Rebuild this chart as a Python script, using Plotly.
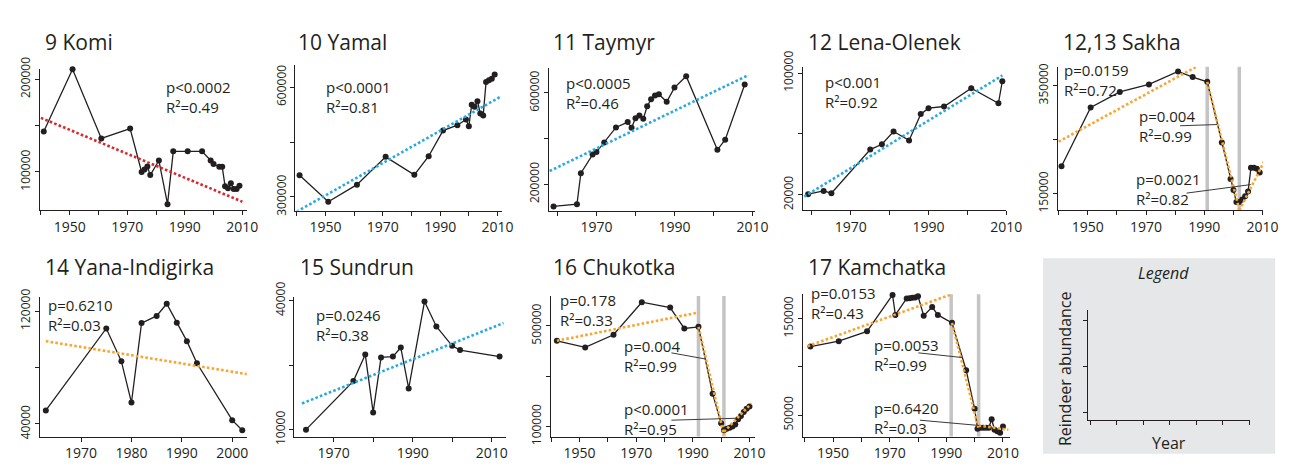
import plotly.graph_objects as go

W, H = 1298, 466
INK = "#231f20"
RED = "#d9272e"
BLUE = "#2aa9e0"
ORANGE = "#f8a532"
GREYLINE = "#c4c4c4"
FONT = "Open Sans"

# ---------------- data ----------------
komi_years = [1941, 1951, 1961, 1971, 1975, 1976, 1977, 1978, 1981, 1984, 1986, 1991, 1996,
              1999, 2000, 2002, 2003, 2004, 2005, 2006, 2007, 2008, 2009]
komi_vals = [143700, 210900, 136200, 146800, 100000, 102700, 105800, 96600, 112300, 65200,
             122200, 122200, 122200, 112300, 108500, 105500, 105500, 84600, 82300, 87800,
             81600, 81600, 85000]
komi_trend_years = [1940, 2010]
komi_trend_vals = [158400, 67900]

yamal_years = [1941, 1951, 1961, 1971, 1981, 1986, 1991, 1996, 1999, 2000, 2001, 2002, 2003,
               2004, 2005, 2006, 2007, 2008, 2009]
yamal_vals = [359700, 287000, 333700, 409800, 360500, 411500, 481600, 496300, 511800, 493700,
              552500, 546400, 562000, 528200, 523100, 614700, 619000, 623300, 634600]
yamal_trend_years = [1940, 2011]
yamal_trend_vals = [260000, 573900]

taymyr_years = [1959, 1965, 1966, 1969, 1970, 1972, 1975, 1978, 1979, 1980, 1981, 1982, 1983,
                1984, 1985, 1986, 1988, 1990, 1993, 2001, 2003, 2008]
taymyr_vals = [103100, 112800, 248400, 330100, 341200, 382700, 449100, 472700, 447800, 489300,
               501700, 486500, 541900, 572300, 588900, 594500, 561200, 623500, 673400, 350900,
               395200, 637400]
taymyr_trend_years = [1958, 2009]
taymyr_trend_vals = [258100, 678700]

lena_years = [1959, 1963, 1965, 1975, 1978, 1981, 1985, 1988, 1990, 1994, 2001, 2008, 2009]
lena_vals = [20400, 22500, 21000, 49700, 53200, 61600, 55700, 73000, 76900, 78000, 90000,
             80100, 94600]
lena_trend_years = [1958, 2009]
lena_trend_vals = [18800, 98400]

sakha_years = [1941, 1951, 1961, 1971, 1981, 1986, 1991, 1996, 1999, 2000, 2001, 2002, 2003,
               2004, 2005, 2006, 2007, 2008, 2009]
sakha_vals = [200900, 309600, 338300, 352300, 376300, 365800, 357000, 244700, 177500, 157000,
              134800, 134800, 139500, 145300, 154100, 198000, 198000, 196200, 189200]
sakha_trend1_years = [1940, 1987]
sakha_trend1_vals = [246500, 384200]
sakha_trend2_years = [1991, 2002]
sakha_trend2_vals = [357000, 120200]
sakha_trend3_years = [2002, 2010.8]
sakha_trend3_vals = [119000, 212600]
sakha_breaks = [1991, 2002]

yana_years = [1963, 1975, 1978, 1980, 1982, 1985, 1987, 1989, 1991, 1993, 2000, 2002]
yana_vals = [49600, 107700, 84400, 55200, 111500, 116600, 125200, 111700, 98700, 83000,
             42700, 35500]
yana_trend_years = [1963, 2003]
yana_trend_vals = [98700, 75300]

sundrun_years = [1963, 1975, 1978, 1980, 1982, 1985, 1987, 1989, 1993, 1996, 2000, 2002, 2012]
sundrun_vals = [10000, 21300, 27500, 14000, 26800, 27000, 29100, 19600, 39800, 34000, 29500,
                28500, 27000]
sundrun_trend_years = [1962, 2013]
sundrun_trend_vals = [16100, 34800]

chukotka_years = [1942, 1952, 1962, 1972, 1982, 1987, 1992, 1997, 2000, 2001, 2002, 2003, 2004,
                  2005, 2006, 2007, 2008, 2009, 2010]
chukotka_vals = [440900, 414500, 464800, 594300, 573000, 489900, 496200, 229600, 112600, 84900,
                 91200, 95000, 100000, 107500, 128900, 141500, 157900, 170400, 179200]
chukotka_trend1_years = [1942, 1992]
chukotka_trend1_vals = [440900, 553500]
chukotka_trend2_years = [1992, 2001]
chukotka_trend2_vals = [496200, 66000]
chukotka_trend3_years = [2001, 2010.7]
chukotka_trend3_vals = [78600, 191800]
chukotka_breaks = [1992, 2001]

kamchatka_years = [1942, 1952, 1962, 1971, 1972, 1976, 1977, 1978, 1979, 1980, 1982, 1985, 1987,
                   1992, 1997, 2000, 2001, 2002, 2003, 2004, 2005, 2006, 2007, 2008, 2009, 2010]
kamchatka_vals = [121100, 126700, 136900, 174600, 153900, 171000, 171300, 171600, 172000, 173300,
                  153000, 162100, 153900, 145700, 96600, 56600, 35900, 36900, 36900, 36900,
                  36900, 45700, 34900, 33300, 31600, 38200]
kamchatka_trend1_years = [1941, 1992]
kamchatka_trend1_vals = [121500, 175500]
kamchatka_trend2_years = [1992, 2001.4]
kamchatka_trend2_vals = [145700, 35900]
kamchatka_trend3_years = [2001.4, 2011.9]
kamchatka_trend3_vals = [39200, 34900]
kamchatka_breaks = [1991.7, 2001.4]

# ---------------- helpers ----------------
def fx(x):
    return x / W


def fy(y):
    return 1 - y / H


dec40 = list(range(1940, 2011, 10))
dec60 = list(range(1960, 2011, 10))
lab4 = [1950, 1970, 1990, 2010]
lab3 = [1970, 1990, 2010]

panels = [
    dict(title="9 Komi", tpos=(35, 18.5), years=komi_years, vals=komi_vals,
         trends=[(komi_trend_years, komi_trend_vals)], color=RED,
         box=(32.5, 242, 47, 196), xcal=(1940, 33.3, 2.914), ycal=(200000, 58.3, 0.0009767),
         xt=dec40, xl=lab4, yt=[100000, 150000, 200000], yl=[100000, 200000],
         stats=[("p<0.0002", "R²=0.49", 158, 67, 87)], breaks=[]),
    dict(title="10 Yamal", tpos=(292, 18.5), years=yamal_years, vals=yamal_vals,
         trends=[(yamal_trend_years, yamal_trend_vals)], color=BLUE,
         box=(291, 500, 43.3, 196.7), xcal=(1940, 292.3, 2.905), ycal=(600000, 66.7, 0.0003856),
         xt=dec40, xl=lab4, yt=[300000, 450000, 600000], yl=[300000, 600000],
         stats=[("p<0.0001", "R²=0.81", 320, 67, 87)], breaks=[]),
    dict(title="11 Taymyr", tpos=(550, 18.5), years=taymyr_years, vals=taymyr_vals,
         trends=[(taymyr_trend_years, taymyr_trend_vals)], color=BLUE,
         box=(547.3, 756.7, 46.7, 196.7), xcal=(1960, 556.3, 3.95), ycal=(600000, 72.7, 0.0002408),
         xt=dec60, xl=lab3, yt=[200000, 400000, 600000], yl=[200000, 600000],
         stats=[("p<0.0005", "R²=0.46", 563, 63, 83)], breaks=[]),
    dict(title="12 Lena-Olenek", tpos=(808, 18.5), years=lena_years, vals=lena_vals,
         trends=[(lena_trend_years, lena_trend_vals)], color=BLUE,
         box=(805, 1010.7, 45, 196), xcal=(1960, 814, 3.933), ycal=(100000, 51.7, 0.001604),
         xt=dec60, xl=lab3, yt=[20000, 60000, 100000], yl=[20000, 100000],
         stats=[("p<0.001", "R²=0.92", 825, 62, 81)], breaks=[]),
    dict(title="12,13 Sakha", tpos=(1066, 18.5), years=sakha_years, vals=sakha_vals,
         trends=[(sakha_trend1_years, sakha_trend1_vals), (sakha_trend2_years, sakha_trend2_vals),
                 (sakha_trend3_years, sakha_trend3_vals)], color=ORANGE,
         box=(1063.3, 1270.7, 45, 196), xcal=(1940, 1063.7, 2.951), ycal=(350000, 65, 0.00057),
         xt=dec40, xl=lab4, yt=[150000, 250000, 350000], yl=[150000, 350000],
         stats=[("p=0.0159", "R²=0.72", 1066.7, 50, 68.5),
                ("p=0.004", "R²=0.99", 1143, 98.5, 117),
                ("p=0.0021", "R²=0.82", 1140, 165.5, 183)],
         leaders=[(1186.7, 107.3, 1224, 106), (1193.3, 178.3, 1258.3, 169.3)],
         breaks=sakha_breaks),
    dict(title="14 Yana-Indigirka", tpos=(35, 256.5), years=yana_years, vals=yana_vals,
         trends=[(yana_trend_years, yana_trend_vals)], color=ORANGE,
         box=(32.3, 241.7, 288.3, 435), xcal=(1963, 38.3, 5.1), ycal=(120000, 302.7, 0.0014875),
         xt=[1970, 1980, 1990, 2000], xl=[1970, 1980, 1990, 2000], yt=[40000, 80000, 120000],
         yl=[40000, 120000], stats=[("p=0.6210", "R²=0.03", 38.3, 296.7, 316.7)], breaks=[]),
    dict(title="15 Sundrun", tpos=(293.3, 256.5), years=sundrun_years, vals=sundrun_vals,
         trends=[(sundrun_trend_years, sundrun_trend_vals)], color=BLUE,
         box=(290, 504.3, 288.3, 435), xcal=(1963, 301.7, 4.0), ycal=(40000, 291.7, 0.004533),
         xt=[1970, 1980, 1990, 2000, 2010], xl=lab3, yt=[10000, 25000, 40000],
         yl=[10000, 40000], stats=[("p=0.0246", "R²=0.38", 310, 307.7, 326.7)], breaks=[]),
    dict(title="16 Chukotka", tpos=(550, 256.5), years=chukotka_years, vals=chukotka_vals,
         trends=[(chukotka_trend1_years, chukotka_trend1_vals),
                 (chukotka_trend2_years, chukotka_trend2_vals),
                 (chukotka_trend3_years, chukotka_trend3_vals)], color=ORANGE,
         box=(549.3, 756.7, 286.7, 435), xcal=(1940, 550, 2.867), ycal=(500000, 318.3, 0.000265),
         xt=dec40, xl=lab4, yt=[100000, 300000, 500000], yl=[100000, 500000],
         stats=[("p=0.178", "R²=0.33", 556.7, 291, 311.7),
                ("p=0.004", "R²=0.99", 621.7, 340, 360),
                ("p<0.0001", "R²=0.95", 621.7, 406.7, 426.7)],
         leaders=[(671.7, 346.7, 706.7, 353.3), (671.7, 417.7, 736.7, 415.7)],
         breaks=chukotka_breaks),
    dict(title="17 Kamchatka", tpos=(808.3, 256.5), years=kamchatka_years, vals=kamchatka_vals,
         trends=[(kamchatka_trend1_years, kamchatka_trend1_vals),
                 (kamchatka_trend2_years, kamchatka_trend2_vals),
                 (kamchatka_trend3_years, kamchatka_trend3_vals)], color=ORANGE,
         box=(805, 1015, 285, 435), xcal=(1940, 806.7, 2.867), ycal=(150000, 310.7, 0.0010167),
         xt=dec40, xl=lab4, yt=[50000, 100000, 150000], yl=[50000, 150000],
         stats=[("p=0.0153", "R²=0.43", 810.7, 285, 304.3),
                ("p=0.0053", "R²=0.99", 875, 340, 358.3),
                ("p=0.6420", "R²=0.03", 875, 406.7, 424.3)],
         leaders=[(921.7, 346.7, 966.7, 351.7), (923.3, 417.7, 983.3, 423.3)],
         breaks=kamchatka_breaks),
]

fig = go.Figure()
layout = dict(
    width=W, height=H, margin=dict(l=0, r=0, t=0, b=0),
    paper_bgcolor="white", plot_bgcolor="rgba(0,0,0,0)",
    showlegend=False, font=dict(family=FONT, color=INK),
)
annotations = []
shapes = []

axis_common = dict(showline=True, linecolor=INK, linewidth=1, ticks="outside", ticklen=4,
                   tickwidth=1, tickcolor=INK, showgrid=False, zeroline=False, fixedrange=True)

for i, p in enumerate(panels, start=1):
    sfx = "" if i == 1 else str(i)
    xname, yname = "x" + sfx, "y" + sfx
    x0, x1, yt_, yb_ = p["box"]
    cy, cp, cs = p["xcal"]
    xr = [cy + (x0 - cp) / cs, cy + (x1 - cp) / cs]
    vv, vq, vt = p["ycal"]
    yr = [vv - (yb_ - vq) / vt, vv + (vq - yt_) / vt]

    layout["xaxis" + sfx] = dict(axis_common, domain=[fx(x0), fx(x1)], range=xr, anchor=yname,
                                 tickvals=p["xt"],
                                 ticktext=[str(v) if v in p["xl"] else "" for v in p["xt"]],
                                 tickfont=dict(size=14, family=FONT, color=INK))
    layout["yaxis" + sfx] = dict(axis_common, domain=[fy(yb_), fy(yt_)], range=yr, anchor=xname,
                                 tickvals=p["yt"],
                                 ticktext=[str(v) if v in p["yl"] else "" for v in p["yt"]],
                                 tickangle=-90, tickfont=dict(size=12, family=FONT, color=INK))

    for b in p["breaks"]:
        shapes.append(dict(type="line", xref=xname, yref=yname + " domain", x0=b, x1=b, y0=0, y1=1,
                           line=dict(color=GREYLINE, width=3.5), layer="below"))

    fig.add_trace(go.Scatter(x=p["years"], y=p["vals"], mode="lines+markers", xaxis=xname,
                             yaxis=yname, line=dict(color=INK, width=1.3),
                             marker=dict(color=INK, size=6), cliponaxis=False))
    for ty, tv in p["trends"]:
        fig.add_trace(go.Scatter(x=ty, y=tv, mode="lines", xaxis=xname, yaxis=yname,
                                 line=dict(color=p["color"], width=2.6, dash="2.6px,2.2px")))

    tx, tyy = p["tpos"]
    annotations.append(dict(text=p["title"], x=fx(tx), y=fy(tyy), xref="paper", yref="paper",
                            xanchor="left", yanchor="middle", showarrow=False,
                            font=dict(size=21, family=FONT, color=INK)))
    for ptxt, rtxt, ax, ayp, ayr in p["stats"]:
        # one two-line block per statistic pair (line spacing ~1.3 em)
        annotations.append(dict(text=ptxt + "<br>" + rtxt, x=fx(ax), y=fy((ayp + ayr) / 2),
                                xref="paper", yref="paper", xanchor="left", yanchor="middle",
                                align="left", showarrow=False,
                                font=dict(size=15, family=FONT, color=INK)))
    for lx0, ly0, lx1, ly1 in p.get("leaders", []):
        shapes.append(dict(type="line", xref="paper", yref="paper", x0=fx(lx0), y0=fy(ly0),
                           x1=fx(lx1), y1=fy(ly1), line=dict(color="#3a3a3a", width=1)))

# ---------------- legend panel ----------------
shapes.append(dict(type="rect", xref="paper", yref="paper", x0=fx(1048), x1=fx(1283),
                   y0=fy(453), y1=fy(247), fillcolor="#e6e7e8", line=dict(width=0),
                   layer="below"))
layout["xaxis10"] = dict(axis_common, domain=[fx(1093), fx(1258)], range=[-0.112, 6.04],
                         anchor="y10", tickvals=[0, 1, 2, 3, 4, 5, 6], showticklabels=False)
layout["yaxis10"] = dict(axis_common, domain=[fy(418), fy(302)], range=[-0.165, 2.227],
                         anchor="x10", tickvals=[0, 1, 2], showticklabels=False)
fig.add_trace(go.Scatter(x=[None], y=[None], xaxis="x10", yaxis="y10", mode="markers"))
annotations += [
    dict(text="<i>Legend</i>", x=fx(1170), y=fy(263), xref="paper", yref="paper",
         xanchor="center", yanchor="middle", showarrow=False, font=dict(size=16, color=INK)),
    dict(text="Reindeer abundance", x=fx(1070), y=fy(363), xref="paper", yref="paper",
         xanchor="center", yanchor="middle", textangle=-90, showarrow=False,
         font=dict(size=16, color=INK)),
    dict(text="Year", x=fx(1175), y=fy(442), xref="paper", yref="paper",
         xanchor="center", yanchor="middle", showarrow=False, font=dict(size=16, color=INK)),
]

layout["annotations"] = annotations
layout["shapes"] = shapes
fig.update_layout(**layout)
fig.write_html("out.html")
